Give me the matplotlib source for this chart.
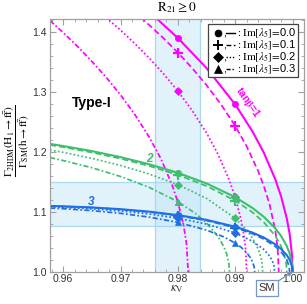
import numpy as np
import matplotlib
matplotlib.use('Agg')
import matplotlib.pyplot as plt
from matplotlib.patches import Rectangle
from matplotlib.lines import Line2D

plt.rcParams['mathtext.fontset'] = 'stix'
plt.rcParams['font.family'] = ['Liberation Sans', 'DejaVu Sans']

# ---------------- data ----------------
kv_t1_0 = [0.976, 0.98, 0.985, 0.99, 0.993, 0.995, 0.997, 0.998, 0.999, 0.9995, 0.9999, 1.0]
r_t1_0 = [1.4251, 1.3900, 1.3399, 1.2793, 1.2346, 1.1987, 1.1543, 1.1262, 1.0893, 1.0632, 1.0283, 1.0]
kv_t1_1 = [0.9735, 0.975, 0.9775, 0.98, 0.9825, 0.985, 0.9875, 0.99, 0.992, 0.994, 0.995, 0.996, 0.997, 0.9974, 0.9976]
r_t1_1 = [1.4244, 1.4117, 1.3895, 1.3657, 1.3398, 1.3114, 1.2797, 1.2434, 1.2094, 1.1683, 1.1432, 1.1125, 1.0690, 1.0399, 1.0]
kv_t1_2 = [0.9675, 0.97, 0.9725, 0.975, 0.9775, 0.98, 0.9825, 0.985, 0.987, 0.989, 0.99, 0.991, 0.9915, 0.9918, 0.992]
r_t1_2 = [1.4240, 1.4031, 1.3807, 1.3566, 1.3304, 1.3015, 1.2691, 1.2318, 1.1964, 1.1525, 1.1247, 1.0883, 1.0625, 1.0395, 1.0]
kv_t1_3 = [0.9577, 0.96, 0.9625, 0.965, 0.9675, 0.97, 0.9725, 0.975, 0.977, 0.979, 0.98, 0.981, 0.9815, 0.9818]
r_t1_3 = [1.419, 1.399, 1.376, 1.351, 1.3245, 1.2952, 1.2625, 1.2249, 1.1895, 1.1451, 1.1165, 1.0778, 1.0476, 1.0]

kv_main = [0.9577, 0.96, 0.965, 0.97, 0.975, 0.98, 0.985, 0.99, 0.993, 0.995, 0.997, 0.998, 0.999, 0.9995, 0.9999, 1.0]
r_t2_0 = [1.2135, 1.2100, 1.2015, 1.1915, 1.1796, 1.1653, 1.1476, 1.1247, 1.1068, 1.0919, 1.0727, 1.0601, 1.0432, 1.0309, 1.0140, 1.0]
r_t3_0 = [1.1101, 1.1095, 1.1076, 1.1047, 1.1006, 1.0948, 1.0869, 1.0754, 1.0658, 1.0574, 1.0461, 1.0385, 1.0280, 1.0202, 1.0093, 1.0]

kv_t2_1 = [0.9577, 0.96, 0.965, 0.97, 0.975, 0.98, 0.985, 0.99, 0.993, 0.995, 0.997, 0.998, 0.9985, 0.9989, 0.999]
r_t2_1 = [1.2117, 1.2081, 1.1993, 1.1890, 1.1767, 1.1618, 1.1433, 1.1190, 1.0996, 1.0829, 1.0600, 1.0431, 1.0308, 1.0140, 1.0]
kv_t2_2 = [0.9577, 0.96, 0.965, 0.97, 0.975, 0.98, 0.985, 0.99, 0.992, 0.993, 0.994, 0.9945, 0.9947, 0.9948]
r_t2_2 = [1.2034, 1.1994, 1.1894, 1.1776, 1.1633, 1.1456, 1.1227, 1.0895, 1.0698, 1.0567, 1.0385, 1.0239, 1.0139, 1.0]
kv_t2_3 = [0.9577, 0.96, 0.965, 0.97, 0.975, 0.98, 0.983, 0.985, 0.987, 0.988, 0.9885, 0.9889, 0.989]
r_t2_3 = [1.1907, 1.1858, 1.1738, 1.1592, 1.1411, 1.1172, 1.0981, 1.0816, 1.0591, 1.0425, 1.0303, 1.0138, 1.0]

kv_t3_1 = [0.9577, 0.96, 0.965, 0.97, 0.975, 0.98, 0.985, 0.99, 0.993, 0.995, 0.997, 0.998, 0.999, 0.9994, 0.9995]
r_t3_1 = [1.1099, 1.1093, 1.1073, 1.1042, 1.1000, 1.0941, 1.0858, 1.0739, 1.0638, 1.0549, 1.0425, 1.0338, 1.0202, 1.0092, 1.0]
kv_t3_2 = [0.9577, 0.96, 0.965, 0.97, 0.975, 0.98, 0.985, 0.99, 0.993, 0.995, 0.996, 0.9965, 0.9968, 0.9969]
r_t3_2 = [1.1086, 1.1078, 1.1053, 1.1017, 1.0967, 1.0897, 1.0799, 1.0651, 1.0514, 1.0375, 1.0265, 1.0181, 1.0092, 1.0]
kv_t3_3 = [0.9577, 0.96, 0.965, 0.97, 0.975, 0.98, 0.985, 0.988, 0.99, 0.991, 0.992, 0.9928, 0.9933, 0.9934]
r_t3_3 = [1.1066, 1.1055, 1.1023, 1.0978, 1.0915, 1.0827, 1.0699, 1.0586, 1.0482, 1.0414, 1.0324, 1.0218, 1.0092, 1.0]

kv_marks = [0.98, 0.99]
m_t1 = [[1.3900, 1.2793], [1.3657, 1.2434], [1.3015, 1.1247], [1.1165, np.nan]]
m_t2 = [[1.1653, 1.1247], [1.1618, 1.1190], [1.1456, 1.0895], [1.1172, np.nan]]
m_t3 = [[1.0948, 1.0754], [1.0941, 1.0739], [1.0897, 1.0651], [1.0827, 1.0482]]

im_labels = ['0.0', '0.1', '0.2', '0.3']
band_kv = [0.976, 0.9838]
band_r = [1.077, 1.150]
x_ticks = [0.96, 0.97, 0.98, 0.99, 1.00]
x_ticklabels = ['0.96', '0.97', '0.98', '0.99', '1.00']
y_ticks = [1.0, 1.1, 1.2, 1.3, 1.4]
y_ticklabels = ['1.0', '1.1', '1.2', '1.3', '1.4']

# ---------------- style ----------------
MAG = '#FF00FF'
GRN = '#3EBF6C'
BLU = '#1F6FE3'
styles = ['-', (0, (3.5, 1.8)), (0, (1, 1.3)), (0, (3, 1.3, 1, 1.3))]
markers = ['o', '+', 'D', '^']
msizes = [4.5, 7, 4.2, 5]

fig = plt.figure(figsize=(3.07, 3.04), dpi=100)
ax = fig.add_axes([50/307, 32/304, 254/307, 253/304])
ax.set_xlim(0.9577, 1.0019)
ax.set_ylim(1.0, 1.4217)

bcol = '#BFE3F7'
ax.axvspan(band_kv[0], band_kv[1], color=bcol, alpha=0.45, lw=0, zorder=0)
ax.axhspan(band_r[0], band_r[1], color=bcol, alpha=0.45, lw=0, zorder=0)
for v in band_kv:
    ax.axvline(v, color='#A9D8F3', lw=0.9, zorder=0.5)
for v in band_r:
    ax.axhline(v, color='#A9D8F3', lw=0.9, zorder=0.5)

curves = [
    (kv_t1_0, r_t1_0, MAG, 0), (kv_t1_1, r_t1_1, MAG, 1), (kv_t1_2, r_t1_2, MAG, 2), (kv_t1_3, r_t1_3, MAG, 3),
    (kv_main, r_t2_0, GRN, 0), (kv_t2_1, r_t2_1, GRN, 1), (kv_t2_2, r_t2_2, GRN, 2), (kv_t2_3, r_t2_3, GRN, 3),
    (kv_main, r_t3_0, BLU, 0), (kv_t3_1, r_t3_1, BLU, 1), (kv_t3_2, r_t3_2, BLU, 2), (kv_t3_3, r_t3_3, BLU, 3),
]
for kv, r, c, i in curves:
    ax.plot(kv, r, color=c, ls=styles[i], lw=1.5 if i == 0 else 1.25, zorder=2)

for marks, c in [(m_t1, MAG), (m_t2, GRN), (m_t3, BLU)]:
    for i, vals in enumerate(marks):
        ax.plot(kv_marks, vals, ls='none', marker=markers[i], ms=msizes[i], color=c,
                mew=1.6 if markers[i] == '+' else 0.5, zorder=3)

ax.text(0.9616, 1.2817, 'Type-I', fontsize=10, fontweight='bold', ha='left', va='center', color='black')
ax.text(0.9751, 1.188, '2', fontsize=8.5, fontweight='bold', style='italic', color=GRN, ha='center', va='center')
ax.text(0.9649, 1.1167, '3', fontsize=8.5, fontweight='bold', style='italic', color=BLU, ha='center', va='center')
ax.text(0.9922, 1.283, r'tan$\mathbf{\beta}$=1', fontsize=7.5, fontweight='bold', color=MAG,
        rotation=-55, ha='center', va='center')

# axes styling
for s in ax.spines.values():
    s.set_color('#A0A0A0')
    s.set_linewidth(0.9)
ax.set_xticks(x_ticks)
ax.set_xticklabels(x_ticklabels)
ax.set_yticks(y_ticks)
ax.set_yticklabels(y_ticklabels)
ax.set_xticks(np.arange(0.958, 1.0021, 0.002), minor=True)
ax.set_yticks(np.arange(1.0, 1.4217, 0.02), minor=True)
ax.tick_params(which='both', direction='in', top=True, right=True, colors='#A0A0A0',
               labelcolor='#333333', labelsize=7.5)
ax.tick_params(which='major', length=4, width=0.8)
ax.tick_params(which='minor', length=2, width=0.6)
ax.tick_params(axis='x', pad=1.2)
ax.tick_params(axis='y', pad=2.5)

# labels
fig.text(177/307, 1 - 8/304, r'$\mathrm{R}_{21} \geq 0$', fontsize=9.5, ha='center', va='center')
fig.text(177/307, 1 - 289/304, r'$\kappa_{\mathrm{V}}$', fontsize=9, ha='center', va='center', color='#333333')
ylab = (r'$\dfrac{\Gamma_{2\mathrm{HDM}}\left(\mathrm{H}_1\rightarrow \mathrm{f}\bar{\mathrm{f}}\right)}'
        r'{\Gamma_{\mathrm{SM}}\left(\mathrm{h}\rightarrow \mathrm{f}\bar{\mathrm{f}}\right)}$')
fig.text(17/307, 1 - 141/304, ylab, fontsize=8, rotation=90, ha='center', va='center')

# SM annotation
ax.annotate('SM', xy=(1.0, 1.0), xycoords='data', xytext=((267-50)/254, (272-288)/253),
            textcoords='axes fraction', fontsize=8, color='#333333', ha='center', va='center',
            annotation_clip=False,
            bbox=dict(boxstyle='square,pad=0.25', fc='white', ec='#7A96C8', lw=0.9),
            arrowprops=dict(arrowstyle='-|>', color='#7A8FB0', lw=0.9, shrinkA=0, shrinkB=0,
                            mutation_scale=6))

# custom legend
def P(x, y):
    return ((x - 50) / 254, (272 - y) / 253)

x0, y0 = P(208, 77)
x1, y1 = P(298, 24)
ax.add_patch(Rectangle((x0, y0), x1 - x0, y1 - y0, transform=ax.transAxes, fc='white',
                       ec='#444444', lw=0.9, zorder=5))
rows = [33, 45, 57, 69]
for i, yy in enumerate(rows):
    mx, my = P(218, yy)
    ax.plot([mx], [my], marker=markers[i], ms=msizes[i] + 0.5, color='black', mew=1.4 if markers[i] == '+' else 0.5,
            transform=ax.transAxes, zorder=6, clip_on=False)
    cx, cy = P(223, yy)
    ax.text(cx, cy, ',', transform=ax.transAxes, fontsize=8, ha='left', va='center', zorder=6)
    lx0, ly = P(226, yy)
    lx1, _ = P(235, yy)
    ax.add_line(Line2D([lx0, lx1], [ly, ly], transform=ax.transAxes, color='black', lw=1.0,
                       ls=styles[i], zorder=6))
    tx, ty = P(236, yy)
    ax.text(tx, ty, r'$:\mathrm{Im}[\lambda_5]\!=\!$' + im_labels[i], transform=ax.transAxes,
            fontsize=8, ha='left', va='center', zorder=6)

fig.savefig('out.png', dpi=100)
